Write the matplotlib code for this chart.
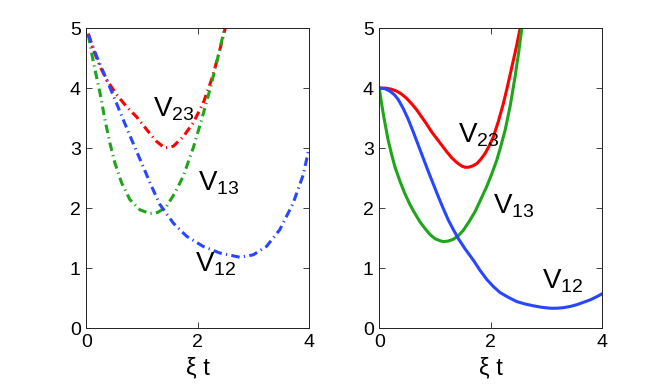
import matplotlib
matplotlib.use("Agg")
import matplotlib.pyplot as plt

plt.rcParams['font.family'] = ['Liberation Sans', 'DejaVu Sans']
plt.rcParams['mathtext.fontset'] = 'custom'
plt.rcParams['mathtext.rm'] = 'Liberation Sans'
plt.rcParams['mathtext.it'] = 'Liberation Sans'

# panneau gauche (tirets-points)
g_x23 = [0.036, 0.126, 0.245, 0.365, 0.544, 0.723, 0.903, 1.082, 1.262, 1.411, 1.561, 1.740, 1.919, 2.099, 2.248, 2.368, 2.487, 2.51]
g_v23 = [4.91, 4.64, 4.36, 4.14, 3.89, 3.69, 3.52, 3.31, 3.11, 3.00, 3.03, 3.19, 3.42, 3.75, 4.14, 4.53, 4.97, 5.08]
g_x13 = [0.036, 0.096, 0.155, 0.245, 0.335, 0.424, 0.514, 0.634, 0.783, 0.963, 1.142, 1.291, 1.441, 1.590, 1.740, 1.919, 2.069, 2.218, 2.338, 2.457, 2.49]
g_v13 = [4.89, 4.58, 4.31, 3.92, 3.47, 3.08, 2.75, 2.42, 2.14, 1.97, 1.91, 1.93, 2.03, 2.25, 2.53, 3.00, 3.47, 3.97, 4.42, 4.89, 5.05]
g_x12 = [0.036, 0.185, 0.365, 0.514, 0.664, 0.813, 0.993, 1.172, 1.321, 1.561, 1.800, 2.099, 2.398, 2.757, 2.996, 3.235, 3.474, 3.713, 3.893, 4.0]
g_v12 = [4.89, 4.53, 4.14, 3.81, 3.47, 3.14, 2.75, 2.36, 2.06, 1.75, 1.53, 1.36, 1.25, 1.18, 1.22, 1.36, 1.64, 2.08, 2.55, 3.0]

# panneau droit (traits pleins)
d_x23 = [0, 0.11, 0.22, 0.31, 0.40, 0.49, 0.58, 0.67, 0.76, 0.85, 0.94, 1.03, 1.12, 1.21, 1.30, 1.39, 1.48, 1.54, 1.60, 1.67, 1.75, 1.82, 1.90, 1.97, 2.05, 2.14, 2.23, 2.30, 2.38, 2.46, 2.53, 2.56]
d_v23 = [4.0, 4.0, 3.98, 3.95, 3.90, 3.83, 3.74, 3.64, 3.52, 3.40, 3.27, 3.16, 3.05, 2.94, 2.84, 2.76, 2.70, 2.68, 2.68, 2.70, 2.74, 2.81, 2.91, 3.03, 3.19, 3.45, 3.75, 4.02, 4.35, 4.68, 5.0, 5.12]
d_x13 = [0, 0.035, 0.07, 0.115, 0.16, 0.22, 0.28, 0.37, 0.46, 0.55, 0.64, 0.73, 0.82, 0.91, 1.0, 1.075, 1.15, 1.24, 1.33, 1.42, 1.51, 1.61, 1.72, 1.82, 1.93, 2.02, 2.11, 2.185, 2.26, 2.35, 2.44, 2.50, 2.56, 2.59]
d_v13 = [4.0, 3.78, 3.58, 3.35, 3.13, 2.90, 2.69, 2.45, 2.24, 2.06, 1.91, 1.77, 1.66, 1.56, 1.49, 1.46, 1.44, 1.45, 1.48, 1.54, 1.63, 1.77, 1.94, 2.14, 2.36, 2.57, 2.80, 3.04, 3.30, 3.70, 4.20, 4.58, 5.0, 5.2]
d_x12 = [0, 0.10, 0.19, 0.27, 0.34, 0.43, 0.52, 0.61, 0.70, 0.79, 0.88, 0.97, 1.06, 1.15, 1.24, 1.33, 1.42, 1.54, 1.69, 1.81, 1.93, 2.05, 2.17, 2.32, 2.47, 2.62, 2.77, 2.92, 3.07, 3.19, 3.31, 3.43, 3.55, 3.67, 3.79, 3.90, 4.0]
d_v12 = [4.0, 3.99, 3.95, 3.89, 3.81, 3.66, 3.48, 3.27, 3.05, 2.83, 2.61, 2.40, 2.19, 1.99, 1.80, 1.64, 1.49, 1.32, 1.13, 0.96, 0.81, 0.69, 0.59, 0.51, 0.44, 0.40, 0.37, 0.345, 0.33, 0.33, 0.34, 0.36, 0.39, 0.43, 0.47, 0.52, 0.57]

rouge = '#ff0000'
vert = '#1ea51a'
bleu = '#2846ff'

fig = plt.figure(figsize=(6.64, 3.85), dpi=100)
ax1 = fig.add_axes([0.13, 0.148, 0.3355, 0.779])
ax2 = fig.add_axes([0.5712, 0.148, 0.3355, 0.779])

tiret_point = (0, (2.8, 1.4, 0.4, 1.4))
ax1.plot(g_x23, g_v23, color=rouge, lw=2.2, linestyle=tiret_point)
ax1.plot(g_x13, g_v13, color=vert, lw=2.2, linestyle=tiret_point)
ax1.plot(g_x12, g_v12, color=bleu, lw=2.2, linestyle=tiret_point)

ax2.plot(d_x23, d_v23, color=rouge, lw=2.2)
ax2.plot(d_x13, d_v13, color=vert, lw=2.2)
ax2.plot(d_x12, d_v12, color=bleu, lw=2.2)

# étiquettes V_ij
taille_v = 20
ax1.text(1.2, 3.52, r'$\mathrm{V}_{23}$', fontsize=taille_v)
ax1.text(2.01, 2.3, r'$\mathrm{V}_{13}$', fontsize=taille_v)
ax1.text(1.95, 0.94, r'$\mathrm{V}_{12}$', fontsize=taille_v)
ax2.text(1.42, 3.1, r'$\mathrm{V}_{23}$', fontsize=taille_v)
ax2.text(2.05, 1.91, r'$\mathrm{V}_{13}$', fontsize=taille_v)
ax2.text(2.92, 0.66, r'$\mathrm{V}_{12}$', fontsize=taille_v)

for ax in (ax1, ax2):
    ax.set_xlim(0, 4)
    ax.set_ylim(0, 5)
    ax.set_xticks([0, 2, 4])
    ax.set_yticks([0, 1, 2, 3, 4, 5])
    ax.tick_params(direction='in', length=4, width=0.6, top=True, right=True,
                   labelsize=14, pad=4, color='#222222')
    for s in ax.spines.values():
        s.set_linewidth(0.7)
        s.set_color('#222222')
    ax.set_xlabel('ξ t', fontsize=17, labelpad=5)

fig.savefig('out.png', dpi=100)
